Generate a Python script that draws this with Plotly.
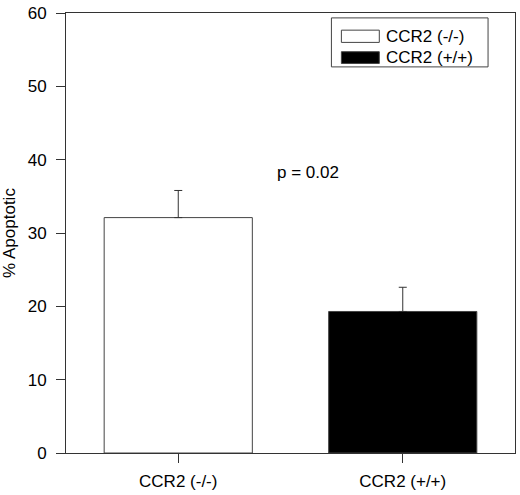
import plotly.graph_objects as go

categories = ["CCR2 (-/-)", "CCR2 (+/+)"]
values = [32.1, 19.3]
errors = [3.7, 3.3]
bar_colors = ["white", "black"]
y_ticks = [0, 10, 20, 30, 40, 50, 60]
legend_labels = ["CCR2 (-/-)", "CCR2 (+/+)"]
p_text = "p = 0.02"

FONT = "Liberation Sans, Arial, sans-serif"
LINE = "#333333"
FS = 17

W, H = 520, 495
L, R, T, B = 66, 4, 10, 36
PW, PH = W - L - R, H - T - B


def px(x):
    return (x - L) / PW


def py(y):
    return (H - B - y) / PH


fig = go.Figure()
fig.add_trace(go.Bar(
    x=categories, y=values, width=0.66,
    marker=dict(color=bar_colors, line=dict(color="#444444", width=1)),
    error_y=dict(type="data", array=errors, arrayminus=[0, 0], symmetric=False,
                 color="#333333", thickness=1, width=4),
    showlegend=False,
))

# p-value annotation
fig.add_annotation(x=0.576, y=38.2, xref="x", yref="y", text=p_text, showarrow=False,
                   font=dict(family=FONT, size=FS, color="black"))

# custom legend box
fig.add_shape(type="rect", xref="paper", yref="paper",
              x0=px(332), x1=px(489), y0=py(65), y1=py(15),
              line=dict(color="#444444", width=1), fillcolor="white")
rows = [(27.5, 40, "white"), (49.5, 61.5, "black")]
for (ya, yb, c), lab in zip(rows, legend_labels):
    fig.add_shape(type="rect", xref="paper", yref="paper",
                  x0=px(342), x1=px(380), y0=py(yb), y1=py(ya),
                  line=dict(color="#444444", width=1), fillcolor=c)
    fig.add_annotation(xref="paper", yref="paper", x=px(385), y=py((ya + yb) / 2),
                       text=lab, showarrow=False, xanchor="left", yanchor="middle",
                       font=dict(family=FONT, size=FS, color="black"))

fig.update_layout(
    width=W, height=H,
    margin=dict(l=L, r=R, t=T, b=B),
    paper_bgcolor="white", plot_bgcolor="white",
    font=dict(family=FONT, size=FS, color="black"),
)
fig.update_xaxes(
    range=[-0.5, 1.5], showgrid=False, zeroline=False,
    showline=True, linecolor=LINE, linewidth=1, mirror=True,
    ticks="outside", ticklen=9, tickcolor=LINE, ticklabelstandoff=4,
    tickfont=dict(family=FONT, size=FS, color="black"),
)
fig.update_yaxes(
    range=[0, 60], tickvals=y_ticks, showgrid=False, zeroline=False,
    showline=True, linecolor=LINE, linewidth=1, mirror=True,
    ticks="outside", ticklen=9, tickcolor=LINE, ticklabelstandoff=6,
    tickfont=dict(family=FONT, size=FS, color="black"),
    title=dict(text="% Apoptotic", font=dict(family=FONT, size=FS, color="black"), standoff=10),
)

fig.write_html("out.html", config={"displayModeBar": False},
               post_script="document.body.style.margin='0';")
